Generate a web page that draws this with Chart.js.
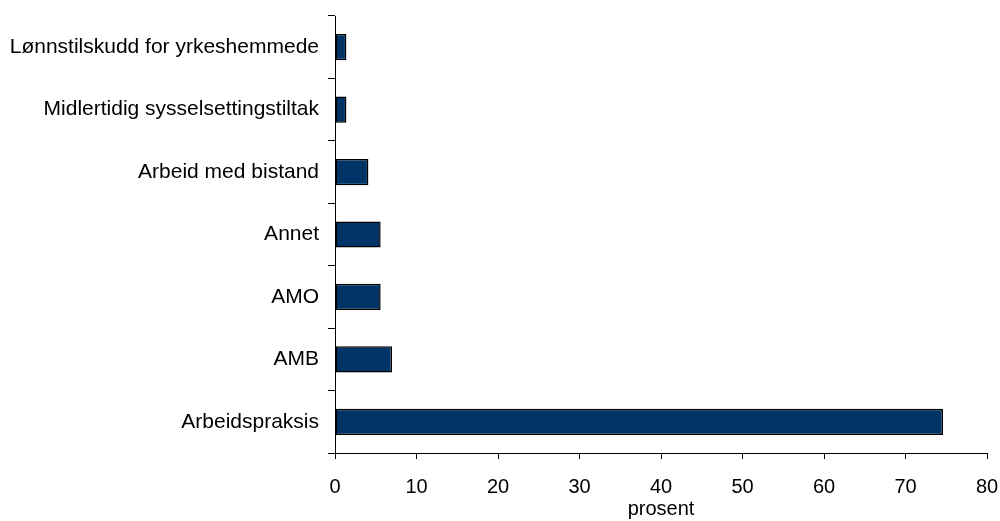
<!DOCTYPE html>
<html><head><meta charset="utf-8">
<script src="https://cdn.jsdelivr.net/npm/chart.js@4/dist/chart.umd.min.js"></script>
<style>html,body{margin:0;padding:0;background:#fff}#wrap{width:1000px;height:521px}</style>
</head><body><div id="wrap"><canvas id="c" width="1000" height="521"></canvas></div>
<script>
const categories = ["Lønnstilskudd for yrkeshemmede","Midlertidig sysselsettingstiltak","Arbeid med bistand","Annet","AMO","AMB","Arbeidspraksis"];
const values = [1.4, 1.4, 4.1, 5.6, 5.6, 7.0, 74.6];
const xTicks = [0,10,20,30,40,50,60,70,80];
const xTitle = "prosent";

Chart.defaults.font.family = "'Liberation Sans', Arial, sans-serif";
Chart.defaults.color = "#000";
new Chart(document.getElementById('c'), {
  type: 'bar',
  data: { labels: categories, datasets: [{ data: values, backgroundColor: '#003366', borderColor: '#000', borderWidth: 1.5, borderSkipped: false, barPercentage: 0.42, categoryPercentage: 1.0 }] },
  options: {
    indexAxis: 'y', responsive: false, animation: false,
    layout: { padding: { top: 16, right: 13, bottom: 0, left: 0 } },
    plugins: { legend: { display: false }, tooltip: { enabled: false } },
    scales: {
      x: {
        min: 0, max: 80,
        afterBuildTicks: s => { s.ticks = xTicks.map(v => ({ value: v })); },
        afterFit: s => { s.height = 68; s.paddingLeft = 0; s.paddingRight = 0; },
        grid: { drawOnChartArea: false, tickLength: 6, color: '#000' },
        border: { color: '#000', width: 1 },
        ticks: { font: { size: 20 }, padding: 16, maxRotation: 0 },
        title: { display: true, text: xTitle, font: { size: 20 }, padding: { top: 0, bottom: 0 } }
      },
      y: {
        afterFit: s => { s.width = 335; s.paddingTop = 0; s.paddingBottom = 0; },
        grid: { drawOnChartArea: false, tickLength: 7, color: '#000', offset: true },
        border: { color: '#000', width: 1 },
        ticks: { font: { size: 21 }, padding: 9 }
      }
    }
  }
});
</script></body></html>
